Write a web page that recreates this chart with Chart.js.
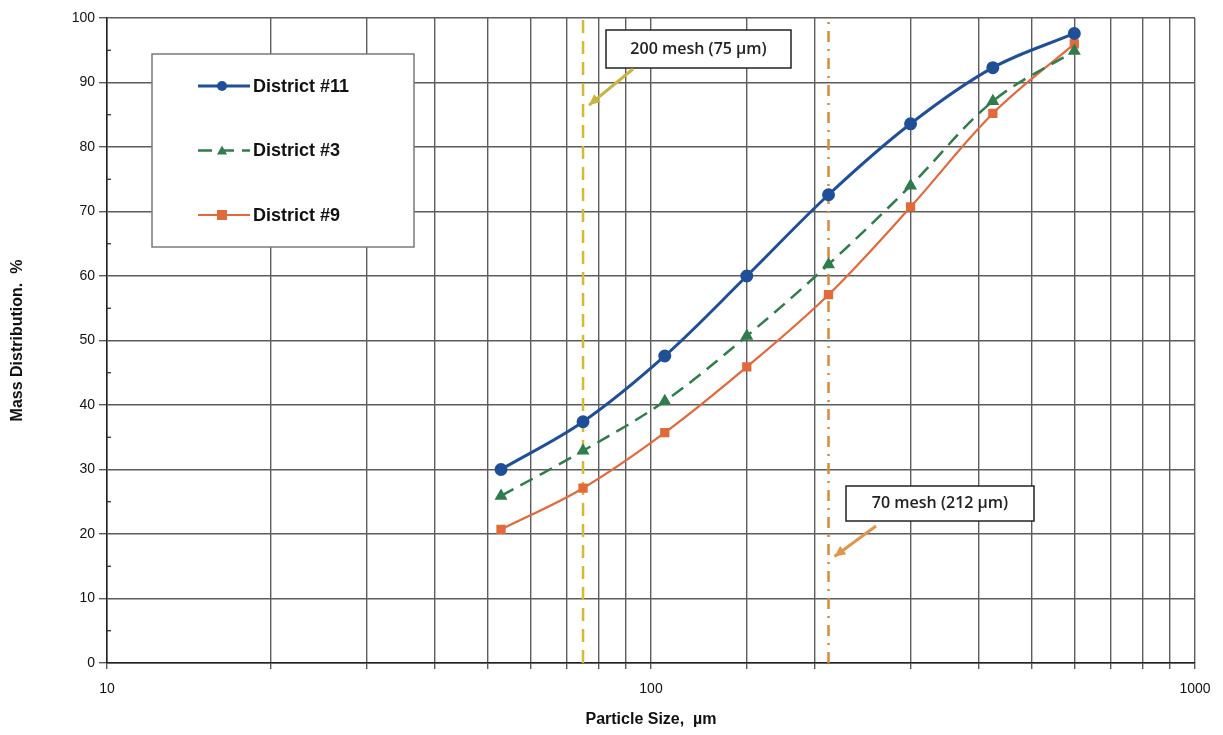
<!DOCTYPE html>
<html>
<head>
<meta charset="utf-8">
<script src="https://cdn.jsdelivr.net/npm/chart.js@4.4.1/dist/chart.umd.min.js"></script>
<style>
  html, body { margin: 0; padding: 0; background: #fff; }
  #wrap { width: 1223px; height: 735px; position: relative; }
</style>
</head>
<body>
<div id="wrap"><canvas id="c"></canvas></div>
<script>
// ── Data ──────────────────────────────────────────────────────────────────────
const sizes      = [53, 75, 106, 150, 212, 300, 425, 600];
const district11 = [30, 37.4, 47.6, 60.0, 72.6, 83.6, 92.3, 97.6];
const district3  = [25.9, 32.9, 40.6, 50.7, 61.8, 74.0, 87.1, 94.9];
const district9  = [20.7, 27.1, 35.7, 45.9, 57.1, 70.7, 85.2, 96.0];
const meshSizes  = [75, 212];
const meshLabels = ['200 mesh (75 µm)', '70 mesh (212 µm)'];
const xTickLabels = [10, 100, 1000];

const C_BLUE = '#1f4f97', C_GREEN = '#2f7d4c', C_ORANGE = '#e2693b';
const C_MESH75 = '#d6b935', C_MESH212 = '#d98a3d';
const GRID = '#5c5c5c';

const pts = ys => sizes.map((x, i) => ({ x, y: ys[i] }));
const vline = x => [{ x, y: 0 }, { x, y: 100 }];

// ── Legend box + annotations drawn on top ─────────────────────────────────────
const overlay = {
    id: 'overlay',
    afterDatasetsDraw(chart) {
        const { ctx, scales: { x, y } } = chart;
        ctx.save();

        // y minor ticks (every 5)
        ctx.strokeStyle = '#222'; ctx.lineWidth = 1.2;
        for (let v = 5; v < 100; v += 10) {
            const py = y.getPixelForValue(v);
            ctx.beginPath(); ctx.moveTo(x.left, py); ctx.lineTo(x.left + 4, py); ctx.stroke();
        }

        // legend
        const lx = 152, ly = 54, lw = 262, lh = 193;
        ctx.fillStyle = '#fff'; ctx.fillRect(lx, ly, lw, lh);
        ctx.strokeStyle = '#7a7a7a'; ctx.lineWidth = 1.5; ctx.strokeRect(lx, ly, lw, lh);
        const items = chart.data.datasets.slice(0, 3);
        items.forEach((ds, i) => {
            const cy = 86 + i * 64.5;
            ctx.strokeStyle = ds.borderColor; ctx.lineWidth = ds.borderWidth;
            ctx.setLineDash(ds.borderDash || []);
            ctx.beginPath(); ctx.moveTo(198, cy); ctx.lineTo(250, cy); ctx.stroke();
            ctx.setLineDash([]);
            ctx.fillStyle = ds.backgroundColor;
            const mx = 222;
            ctx.beginPath();
            if (ds.pointStyle === 'circle') ctx.arc(mx, cy, 5, 0, Math.PI * 2);
            else if (ds.pointStyle === 'triangle') { ctx.moveTo(mx, cy - 5); ctx.lineTo(mx + 5, cy + 4); ctx.lineTo(mx - 5, cy + 4); ctx.closePath(); }
            else ctx.rect(mx - 5, cy - 5, 10, 10);
            ctx.fill();
            ctx.fillStyle = '#111'; ctx.font = 'bold 18px Arial, "Liberation Sans", sans-serif';
            ctx.textBaseline = 'middle'; ctx.textAlign = 'left';
            ctx.fillText(ds.label, 253, cy + 1);
        });

        // callouts
        const callout = (label, bx, by, bw, bh, fromX, fromY, tipVal, tipY, color) => {
            ctx.fillStyle = '#fff'; ctx.fillRect(bx, by, bw, bh);
            ctx.strokeStyle = '#222'; ctx.lineWidth = 1.5; ctx.strokeRect(bx, by, bw, bh);
            ctx.fillStyle = '#222'; ctx.font = '600 16px "Open Sans", sans-serif';
            ctx.textAlign = 'center'; ctx.textBaseline = 'middle';
            ctx.fillText(label, bx + bw / 2, by + bh / 2);
            const tx = x.getPixelForValue(tipVal) + 6, ty = y.getPixelForValue(tipY);
            ctx.strokeStyle = color; ctx.fillStyle = color; ctx.lineWidth = 3;
            ctx.beginPath(); ctx.moveTo(fromX, fromY); ctx.lineTo(tx, ty); ctx.stroke();
            const a = Math.atan2(ty - fromY, tx - fromX), h = 12;
            ctx.beginPath(); ctx.moveTo(tx, ty);
            ctx.lineTo(tx - h * Math.cos(a - 0.45), ty - h * Math.sin(a - 0.45));
            ctx.lineTo(tx - h * Math.cos(a + 0.45), ty - h * Math.sin(a + 0.45));
            ctx.closePath(); ctx.fill();
        };
        callout(meshLabels[0], 606, 30, 185, 38, 633, 69, meshSizes[0], 86.5, '#c9b43f');
        callout(meshLabels[1], 846, 486, 188, 35, 876, 526, meshSizes[1], 16.5, '#e0954a');

        ctx.restore();
    }
};

new Chart(document.getElementById('c'), {
    type: 'scatter',
    data: { datasets: [
        { label: 'District #11', data: pts(district11), borderColor: C_BLUE, backgroundColor: C_BLUE, showLine: true, borderWidth: 3, pointRadius: 5, pointStyle: 'circle', tension: 0.35, fill: false },
        { label: 'District #3',  data: pts(district3),  borderColor: C_GREEN, backgroundColor: C_GREEN, showLine: true, borderWidth: 2.5, borderDash: [14, 8], pointRadius: 5, pointStyle: 'triangle', tension: 0.35, fill: false },
        { label: 'District #9',  data: pts(district9),  borderColor: C_ORANGE, backgroundColor: C_ORANGE, showLine: true, borderWidth: 2.2, pointRadius: 5, pointStyle: 'rect', tension: 0.35, fill: false },
        { label: meshLabels[0], data: vline(meshSizes[0]), borderColor: C_MESH75, showLine: true, borderWidth: 2.5, borderDash: [13, 8], pointRadius: 0, fill: false },
        { label: meshLabels[1], data: vline(meshSizes[1]), borderColor: C_MESH212, showLine: true, borderWidth: 2.5, borderDash: [11, 7, 2, 7], pointRadius: 0, fill: false },
    ]},
    options: {
        responsive: true, maintainAspectRatio: false, animation: false,
        layout: { padding: { left: 0, right: 28, top: 18, bottom: 0 } },
        plugins: { legend: { display: false }, tooltip: { enabled: false } },
        scales: {
            x: {
                type: 'logarithmic', min: 10, max: 1000,
                afterFit: s => { s.height = 72; },
                title: { display: true, text: 'Particle Size,  µm', color: '#111', font: { family: 'Arial', size: 16, weight: 'bold' }, padding: { top: 0, bottom: 6 } },
                grid: { color: GRID, lineWidth: 1.4, tickLength: 6 },
                border: { color: '#222', width: 1.5 },
                ticks: { autoSkip: false, maxRotation: 0, color: '#111', padding: 12, font: { family: 'Arial', size: 14 },
                    callback: v => xTickLabels.includes(v) ? String(v) : '' },
            },
            y: {
                min: 0, max: 100,
                afterFit: s => { s.width = 107; },
                title: { display: true, text: 'Mass Distribution.  %', color: '#111', font: { family: 'Arial', size: 16, weight: 'bold' }, padding: { top: 8, bottom: 0 } },
                grid: { color: GRID, lineWidth: 1.4, tickLength: 8 },
                border: { color: '#222', width: 1.5 },
                ticks: { stepSize: 10, color: '#111', padding: 4, font: { family: 'Arial', size: 14 } },
            },
        },
    },
    plugins: [overlay],
});
</script>
</body>
</html>
